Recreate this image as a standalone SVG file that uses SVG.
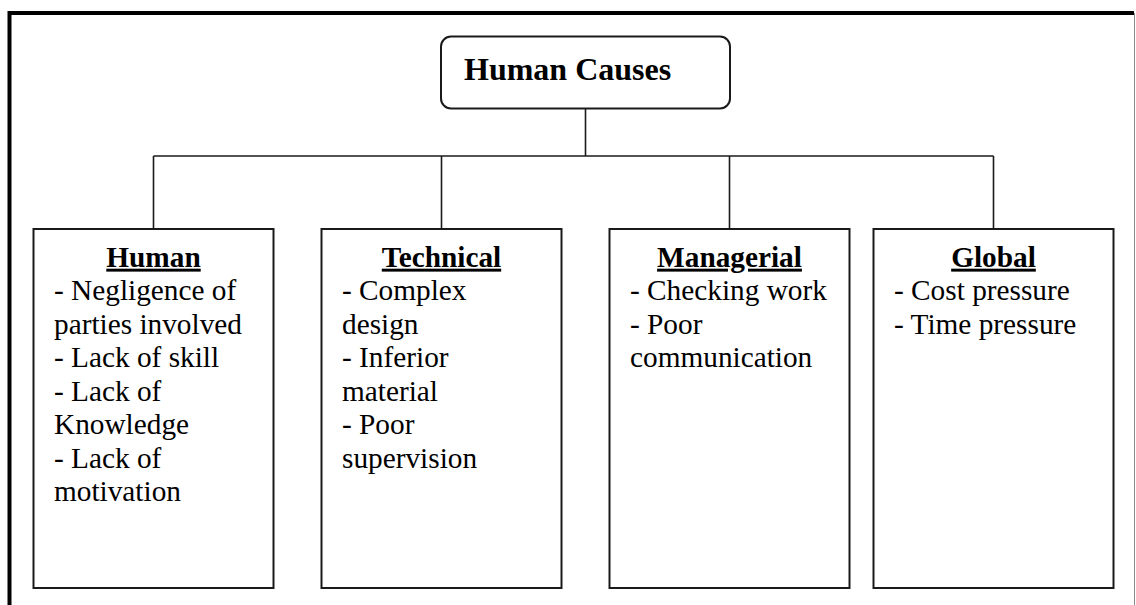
<svg xmlns="http://www.w3.org/2000/svg" width="1136" height="605" viewBox="0 0 1136 605">
  <style>
    .frame { fill: none; stroke: #000; stroke-width: 4; }
    .box { fill: #fff; stroke: #1a1a1a; stroke-width: 2; }
    .wire { fill: none; stroke: #1a1a1a; stroke-width: 1.6; }
    .root { font-family: "Liberation Serif", "Times New Roman", serif; font-size: 32px; font-weight: bold; fill: #000; }
    .head { font-family: "Liberation Serif", "Times New Roman", serif; font-size: 29.3px; font-weight: bold; fill: #000; text-anchor: middle; text-decoration: underline; }
    .item { font-family: "Liberation Serif", "Times New Roman", serif; font-size: 29.3px; fill: #000; }
  </style>
  <rect width="1136" height="605" fill="#fff"/>

  <!-- page frame (open at the bottom) -->
  <path class="frame" d="M9.5,605 V13 H1134"/>
  <line x1="1134.5" y1="13" x2="1134.5" y2="605" stroke="#8a8a8a" stroke-width="1"/>

  <!-- connectors -->
  <g id="connectors">
    <path class="wire" d="M585.5,108.5 V156"/>
    <path class="wire" d="M153.5,156 H993.5"/>
    <path class="wire" d="M153.5,156 V229"/>
    <path class="wire" d="M441.5,156 V229"/>
    <path class="wire" d="M729.5,156 V229"/>
    <path class="wire" d="M993.5,156 V229"/>
  </g>

  <g id="node-root">
    <rect class="box" x="441" y="36.5" width="289" height="72" rx="10" ry="10"/>
    <text class="root" x="464" y="80">Human Causes</text>
  </g>

  <g id="node-human">
    <rect class="box" x="33.5" y="229" width="240" height="359"/>
    <text class="head" x="153.5" y="266.7">Human</text>
    <text class="item" x="54">
      <tspan x="54" y="300">- Negligence of</tspan>
      <tspan x="54" y="333.5">parties involved</tspan>
      <tspan x="54" y="367">- Lack of skill</tspan>
      <tspan x="54" y="400.5">- Lack of</tspan>
      <tspan x="54" y="434">Knowledge</tspan>
      <tspan x="54" y="467.5">- Lack of</tspan>
      <tspan x="54" y="501">motivation</tspan>
    </text>
  </g>

  <g id="node-technical">
    <rect class="box" x="321.5" y="229" width="240" height="359"/>
    <text class="head" x="441.5" y="266.7">Technical</text>
    <text class="item" x="342">
      <tspan x="342" y="300">- Complex</tspan>
      <tspan x="342" y="333.5">design</tspan>
      <tspan x="342" y="367">- Inferior</tspan>
      <tspan x="342" y="400.5">material</tspan>
      <tspan x="342" y="434">- Poor</tspan>
      <tspan x="342" y="467.5">supervision</tspan>
    </text>
  </g>

  <g id="node-managerial">
    <rect class="box" x="609.5" y="229" width="240" height="359"/>
    <text class="head" x="729.5" y="266.7">Managerial</text>
    <text class="item" x="630">
      <tspan x="630" y="300">- Checking work</tspan>
      <tspan x="630" y="333.5">- Poor</tspan>
      <tspan x="630" y="367">communication</tspan>
    </text>
  </g>

  <g id="node-global">
    <rect class="box" x="873.5" y="229" width="240" height="359"/>
    <text class="head" x="993.5" y="266.7">Global</text>
    <text class="item" x="894">
      <tspan x="894" y="300">- Cost pressure</tspan>
      <tspan x="894" y="333.5">- Time pressure</tspan>
    </text>
  </g>
</svg>
